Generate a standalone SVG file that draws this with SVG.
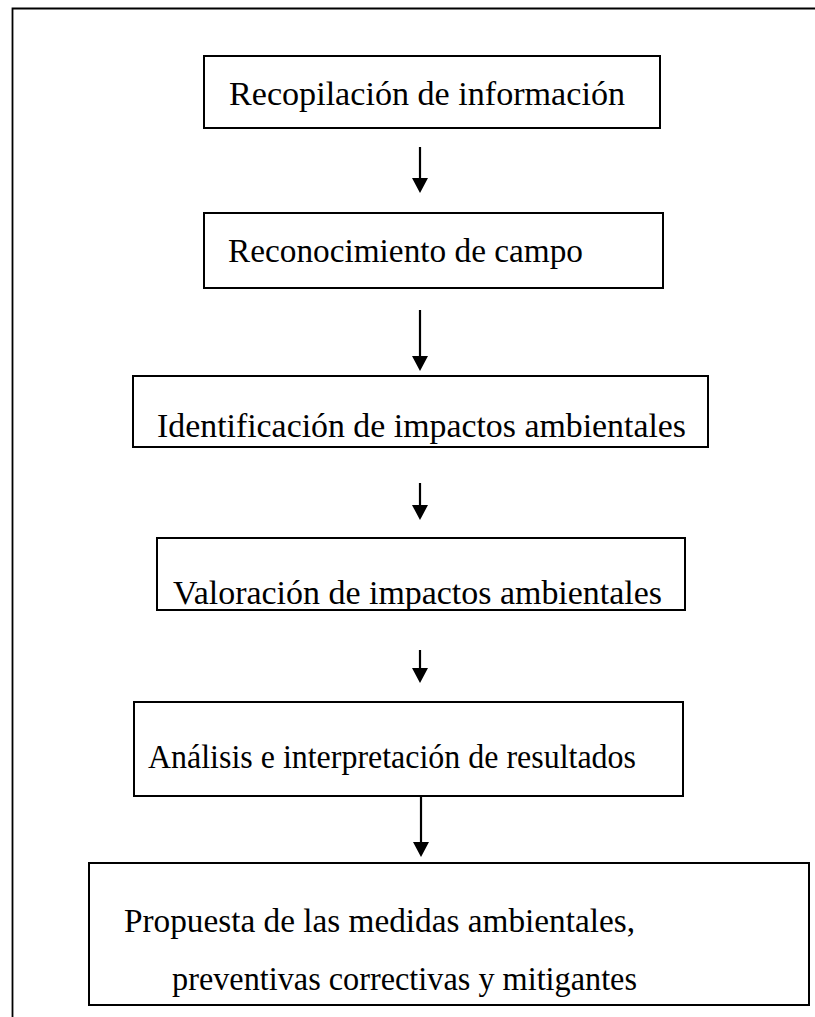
<svg xmlns="http://www.w3.org/2000/svg" width="815" height="1017" viewBox="0 0 815 1017">
<style>
.box{fill:#fff;stroke:#000;stroke-width:2}
.frame{fill:none;stroke:#000;stroke-width:1.8}
.t{font-family:"Liberation Serif","Times New Roman",serif;font-size:33px;fill:#000}
.c{stroke:#000;stroke-width:2.2;fill:none}
.h{fill:#000}
</style>
<rect width="815" height="1017" fill="#fff"/>
<path class="frame" d="M12.5,1017 V8.5 H815"/>
<g id="n1"><rect class="box" x="204" y="56" width="456" height="72"/><text class="t" x="229" y="105" textLength="396" lengthAdjust="spacingAndGlyphs">Recopilación de información</text></g>
<g id="n2"><rect class="box" x="204" y="213" width="459" height="75"/><text class="t" x="228" y="262" textLength="355" lengthAdjust="spacingAndGlyphs">Reconocimiento de campo</text></g>
<g id="n3"><rect class="box" x="133" y="376" width="575" height="71"/><text class="t" x="157" y="437" textLength="529" lengthAdjust="spacingAndGlyphs">Identificación de impactos ambientales</text></g>
<g id="n4"><rect class="box" x="157" y="538" width="528" height="72"/><text class="t" x="173" y="604" textLength="489" lengthAdjust="spacingAndGlyphs">Valoración de impactos ambientales</text></g>
<g id="n5"><rect class="box" x="134" y="702" width="549" height="94"/><text class="t" x="148" y="768" textLength="488" lengthAdjust="spacingAndGlyphs">Análisis e interpretación de resultados</text></g>
<g id="n6"><rect class="box" x="89" y="863" width="720" height="142"/><text class="t" x="124" y="932" textLength="511" lengthAdjust="spacingAndGlyphs">Propuesta de las medidas ambientales,</text><text class="t" x="172" y="990" textLength="465" lengthAdjust="spacingAndGlyphs">preventivas correctivas y mitigantes</text></g>
<g id="connectors">
<line class="c" x1="420" y1="147" x2="420" y2="180"/><polygon class="h" points="412,178 428,178 420,193"/>
<line class="c" x1="420" y1="310" x2="420" y2="358"/><polygon class="h" points="412,356 428,356 420,371"/>
<line class="c" x1="420" y1="483" x2="420" y2="507"/><polygon class="h" points="412,505 428,505 420,520"/>
<line class="c" x1="420" y1="650" x2="420" y2="670"/><polygon class="h" points="412,668 428,668 420,683"/>
<line class="c" x1="421" y1="796" x2="421" y2="844"/><polygon class="h" points="413,842 429,842 421,857"/>
</g>
</svg>
